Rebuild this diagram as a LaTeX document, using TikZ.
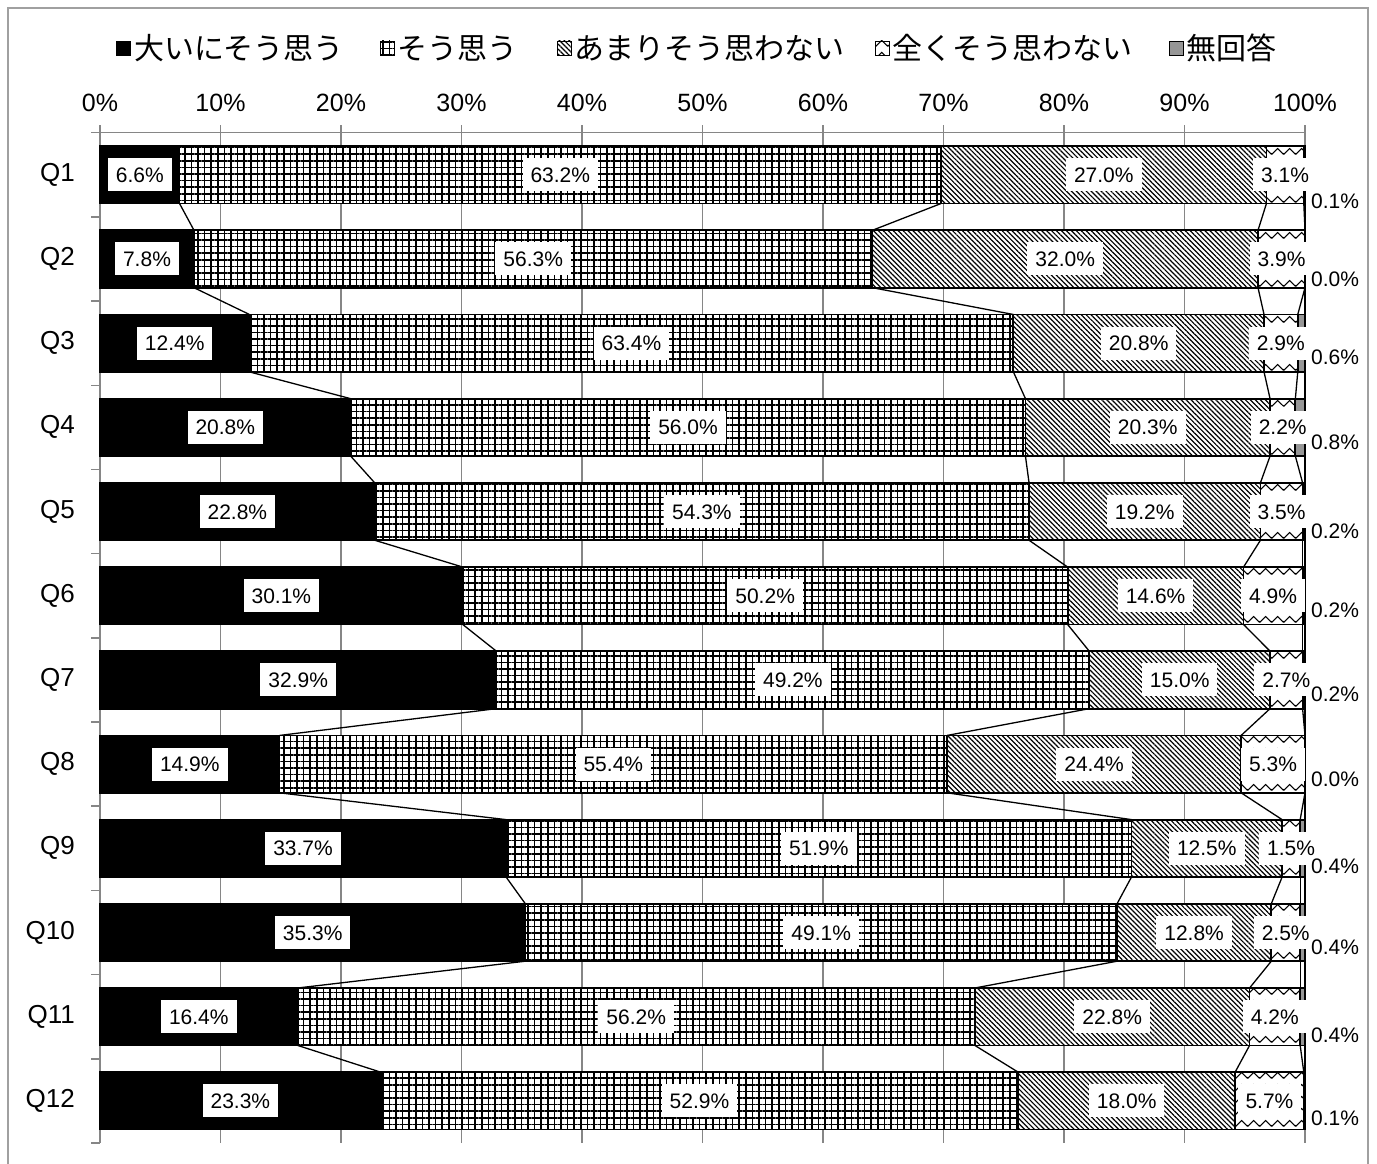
\documentclass[tikz,border=0pt]{standalone}
\usepackage{fontspec}
\setmainfont{Liberation Sans}
\newfontfamily\jp{Noto Sans CJK JP}
\usetikzlibrary{patterns.meta}

\tikzdeclarepattern{
  name=zig,
  type=uncolored,
  bounding box={(0pt,0pt) and (12pt,12pt)},
  tile size={(12pt,12pt)},
  code={
    \draw[line width=1.1pt] (-1pt,3pt) -- (0pt,2pt) -- (6pt,8pt) -- (12pt,2pt) -- (13pt,3pt);
  }
}

\definecolor{gridgray}{RGB}{134,134,134}
\definecolor{framegray}{RGB}{160,160,160}
\definecolor{nagray}{RGB}{150,150,150}

\tikzset{
  frame/.style={draw=framegray, line width=2pt},
  gridl/.style={draw=gridgray, line width=1.5pt},
  sA/.style={fill=black, draw=black, line width=1.8pt},
  sB/.style={preaction={fill=white}, pattern={Hatch[angle=0,distance=6.6pt,line width=1.5pt]}, pattern color=black, draw=black, line width=1.8pt},
  sC/.style={preaction={fill=white}, pattern={Lines[angle=-45,distance=3.5pt,line width=1.2pt]}, pattern color=black, draw=black, line width=1.8pt},
  sD/.style={preaction={fill=white}, pattern=zig, pattern color=black, draw=black, line width=1.8pt},
  sE/.style={fill=nagray, draw=black, line width=1.8pt},
  conn/.style={draw=black, line width=1.3pt},
  axl/.style={font=\fontsize{25}{25}\selectfont, inner sep=0pt},
  ql/.style={font=\fontsize{26}{26}\selectfont, anchor=east, inner sep=0pt},
  dl/.style={fill=white, font=\fontsize{21}{21}\selectfont, inner xsep=8pt, inner ysep=9pt, text height=15pt, text depth=0pt},
  nl/.style={font=\fontsize{21}{21}\selectfont, anchor=west, inner sep=2pt},
  lkey/.style={minimum size=14pt, inner sep=0pt, line width=0.9pt},
  legt/.style={font=\jp\fontsize{30}{30}\selectfont, anchor=west, inner sep=0pt},
}

\def\chartdata{
 1/6.6/63.2/27.0/3.1/0.1/201,
 2/7.8/56.3/32.0/3.9/0.0/279,
 3/12.4/63.4/20.8/2.9/0.6/357,
 4/20.8/56.0/20.3/2.2/0.8/442,
 5/22.8/54.3/19.2/3.5/0.2/531,
 6/30.1/50.2/14.6/4.9/0.2/610,
 7/32.9/49.2/15.0/2.7/0.2/694,
 8/14.9/55.4/24.4/5.3/0.0/779,
 9/33.7/51.9/12.5/1.5/0.4/866,
 10/35.3/49.1/12.8/2.5/0.4/947,
 11/16.4/56.2/22.8/4.2/0.4/1035,
 12/23.3/52.9/18.0/5.7/0.1/1118}

\begin{document}
\begin{tikzpicture}[x=1pt,y=-1pt]
\useasboundingbox (0,0) rectangle (1377,1164);
\fill[white] (0,0) rectangle (1377,1164);
\draw[frame] (8,8) rectangle (1368,1172);

% legend
\node[lkey, sA, line width=0.9pt] (k1) at (123,48) {};
\node[legt] (l1) at (134,48) {大いにそう思う};
\node[lkey, sB, line width=0.9pt] (k2) at (387,48) {};
\node[legt] (l2) at (397,48) {そう思う};
\node[lkey, sC, line width=0.9pt] (k3) at (564,48) {};
\node[legt] (l3) at (574,48) {あまりそう思わない};
\node[lkey, sD, line width=0.9pt] (k4) at (882,48) {};
\node[legt] (l4) at (892,48) {全くそう思わない};
\node[lkey, sE, line width=0.9pt] (k5) at (1176,48) {};
\node[legt] (l5) at (1186,48) {無回答};

% axis, gridlines and ticks
\foreach \p in {0,10,...,100} {
  \pgfmathsetmacro\gx{100+12.05*\p}
  \draw[gridl] (\gx,125) -- (\gx,1143);
  \node[axl] (ax\p) at (\gx,103) {\p\%};
}
\draw[gridl] (91,132.7) -- (1305,132.7);
\foreach \k in {1,...,12} {
  \pgfmathsetmacro\ty{132.7+84.19*\k}
  \draw[gridl] (91,\ty) -- (100,\ty);
}

% bars
\foreach \i/\a/\b/\c/\d/\e/\ly in \chartdata {
  \pgfmathsetmacro\yc{132.7+84.19*(\i-0.5)}
  \pgfmathsetmacro\yt{\yc-28.7}
  \pgfmathsetmacro\yb{\yc+28.7}
  \pgfmathsetmacro\xa{100+12.05*\a}
  \pgfmathsetmacro\xb{100+12.05*(\a+\b)}
  \pgfmathsetmacro\xc{100+12.05*(\a+\b+\c)}
  \pgfmathsetmacro\xd{100+12.05*(100-\e)}
  \draw[sA] (100,\yt) rectangle (\xa,\yb);
  \draw[sB] (\xa,\yt) rectangle (\xb,\yb);
  \draw[sC] (\xb,\yt) rectangle (\xc,\yb);
  \draw[sD] (\xc,\yt) rectangle (\xd,\yb);
  \draw[sE] (\xd,\yt) rectangle (1305,\yb);
  \coordinate (t\i-1) at (\xa,\yt);  \coordinate (b\i-1) at (\xa,\yb);
  \coordinate (t\i-2) at (\xb,\yt);  \coordinate (b\i-2) at (\xb,\yb);
  \coordinate (t\i-3) at (\xc,\yt);  \coordinate (b\i-3) at (\xc,\yb);
  \coordinate (t\i-4) at (\xd,\yt);  \coordinate (b\i-4) at (\xd,\yb);
  \coordinate (t\i-5) at (1305,\yt); \coordinate (b\i-5) at (1305,\yb);
}

% series lines
\foreach \i in {1,...,11} {
  \pgfmathtruncatemacro\j{\i+1}
  \foreach \k in {1,...,5} {
    \draw[conn] (b\i-\k) -- (t\j-\k);
  }
}

% labels
\foreach \i/\a/\b/\c/\d/\e/\ly in \chartdata {
  \pgfmathsetmacro\yc{132.7+84.19*(\i-0.5)}
  \pgfmathsetmacro\xa{100+12.05*\a}
  \pgfmathsetmacro\xb{100+12.05*(\a+\b)}
  \pgfmathsetmacro\xc{100+12.05*(\a+\b+\c)}
  \pgfmathsetmacro\xd{100+12.05*(100-\e)}
  \node[ql] (q\i) at (75,\yc) {Q\i};
  \node[dl] (la\i) at ({(100+\xa)/2},\yc) {\a\%};
  \node[dl] (lb\i) at ({(\xa+\xb)/2},\yc) {\b\%};
  \node[dl] (lc\i) at ({(\xb+\xc)/2},\yc) {\c\%};
  \node[dl] (ld\i) at ({(\xc+\xd)/2},\yc) {\d\%};
  \node[nl] (le\i) at (1309,\ly) {\e\%};
}
\end{tikzpicture}
\end{document}
